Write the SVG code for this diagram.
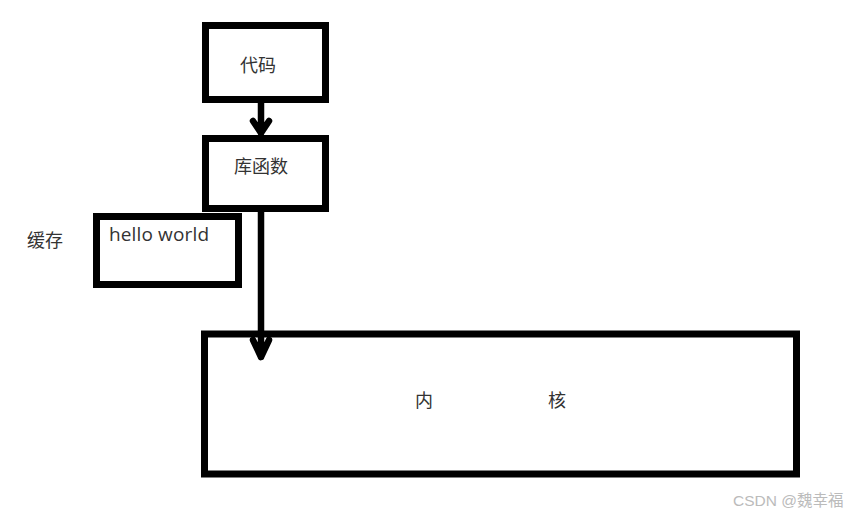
<svg xmlns="http://www.w3.org/2000/svg" width="852" height="516" viewBox="0 0 852 516">
<style>
.box{fill:#fff;stroke:#000;stroke-width:7}
.t{font-family:"Noto Sans CJK SC","Noto Sans",sans-serif;fill:#333;font-size:18px}
.c{fill:none;stroke:#000;stroke-width:6.5;stroke-linecap:round;stroke-linejoin:round}
</style>
<rect width="852" height="516" fill="#fff"/>
<g id="code"><rect class="box" x="205.5" y="25.5" width="120" height="74"/><text class="t" x="258" y="72" text-anchor="middle">代码</text></g>
<g id="lib"><rect class="box" x="205.5" y="138.5" width="120" height="70"/><text class="t" x="261" y="173" text-anchor="middle">库函数</text></g>
<g id="cache"><rect class="box" x="96.5" y="216.5" width="142" height="68"/><text x="109" y="241" font-family="'Open Sans','Noto Sans',sans-serif" font-size="19" fill="#333" textLength="100">hello world</text></g>
<g id="cache-label"><text class="t" x="27" y="247">缓存</text></g>
<g id="kernel"><rect class="box" x="204.5" y="334" width="592" height="140"/><text class="t" x="415" y="407">内</text><text class="t" x="548" y="407">核</text></g>
<g id="connectors">
<path class="c" d="M261 103 V133 M253 121 L261 133 L269 121"/>
<path class="c" d="M261 212 V357 M253 340 L261 357 L269 340"/>
</g>
<text x="733" y="506" font-family="'Liberation Sans','Noto Sans CJK SC',sans-serif" font-size="15.5" fill="#bbb">CSDN @魏幸福</text>
</svg>
